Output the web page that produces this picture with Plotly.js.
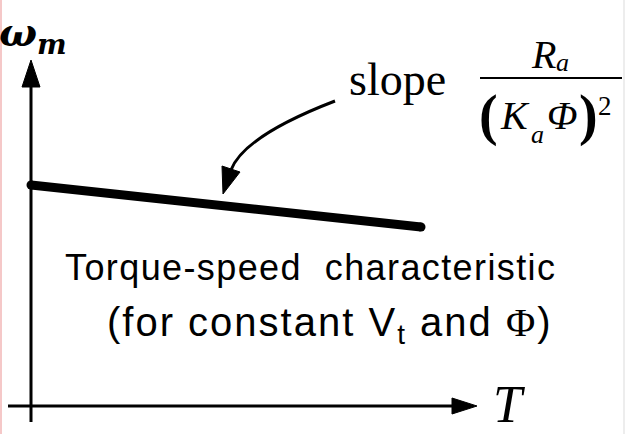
<!DOCTYPE html>
<html>
<head>
<meta charset="utf-8">
<script src="https://cdn.plot.ly/plotly-3.0.1.min.js"></script>
<style>html,body{margin:0;padding:0;background:#fff;}#chart{width:626px;height:434px;}</style>
</head>
<body>
<div id="chart"></div>
<script>
// ---- data ----
const torque = [0, 10];          // T, arbitrary units
const speed = [10, 8.1];         // omega_m, arbitrary units
const xLabel = "T";
const yLabelMain = "ω";
const yLabelSub = "m";
const captionLine1 = "Torque-speed\u00a0 characteristic";
const captionLine2 = "(for constant V<sub>t</sub> and <span style='font-family:\"Liberation Serif\"'>Φ</span>)";
const slopeWord = "slope";

// ---- geometry ----
const W = 626, H = 434;
const X0 = 31, Y0 = 406;         // pixel position of the origin
const KX = 39, KY = 22.1;        // pixels per unit
const xr = [-X0 / KX, (W - X0) / KX];
const yr = [-(H - Y0) / KY, Y0 / KY];
const dx = px => (px - X0) / KX;
const dy = py => (Y0 - py) / KY;
const PX = px => px / W;
const PY = py => 1 - py / H;

const serif = "Liberation Serif, Times New Roman, serif";
const dserif = "DejaVu Serif, serif";
const sans = "Liberation Sans, Arial, sans-serif";

function txt(text, px, py, size, family, extra) {
  return Object.assign({
    text: text, x: PX(px), y: PY(py), xref: "paper", yref: "paper",
    xanchor: "center", yanchor: "middle", showarrow: false,
    font: {family: family, size: size, color: "#000"}
  }, extra || {});
}

const annotations = [
  txt("<b><i>" + yLabelMain + "<sub>" + yLabelSub + "</sub></i></b>", 33, 34, 40, dserif),
  txt("<i>" + xLabel + "</i>", 509, 404, 52, serif),
  txt(slopeWord, 397, 80, 46, serif),
  txt("<i>R</i>", 543, 54, 40, serif),
  txt("<i>a</i>", 562, 63, 26, serif),
  txt("<b>(</b>", 488, 115, 56, serif),
  txt("<i>K</i>", 515, 116, 40, serif),
  txt("<i>a</i>", 537, 134, 26, serif),
  txt("<i>Φ</i>", 562, 116, 40, serif),
  txt("<b>)</b>", 588, 115, 56, serif),
  txt("2", 605, 106, 27, serif),
  txt("<span style='letter-spacing:1.4px'>" + captionLine1 + "</span>", 310, 267, 36, sans),
  txt("<span style='letter-spacing:2px'>" + captionLine2 + "</span>", 329, 325, 40, sans)
];

// pixel-path helper anchored to top-left of the paper
const pp = (px, py) => px + "," + (-py);

const shapes = [
  // faint page edges
  {type: "line", xref: "paper", yref: "paper", x0: PX(1), x1: PX(1), y0: 0, y1: 1,
   line: {color: "#f5c8c8", width: 2}},
  {type: "line", xref: "paper", yref: "paper", x0: PX(624), x1: PX(624), y0: 0, y1: 1,
   line: {color: "#ededed", width: 2}},
  // vertical axis
  {type: "line", xref: "x", yref: "y", x0: 0, x1: 0, y0: dy(422), y1: dy(84),
   line: {color: "#000", width: 3}},
  {type: "path", xref: "x", yref: "y", xsizemode: "pixel", ysizemode: "pixel",
   xanchor: 0, yanchor: dy(60), path: "M0,0 L-9,-27 L9,-27 Z",
   fillcolor: "#000", line: {color: "#000", width: 1}},
  // horizontal axis
  {type: "line", xref: "x", yref: "y", x0: dx(8), x1: dx(454), y0: 0, y1: 0,
   line: {color: "#000", width: 3}},
  {type: "path", xref: "x", yref: "y", xsizemode: "pixel", ysizemode: "pixel",
   xanchor: dx(477), yanchor: 0, path: "M0,0 L-25,8 L-25,-8 Z",
   fillcolor: "#000", line: {color: "#000", width: 1}},
  // fraction bar
  {type: "line", xref: "paper", yref: "paper", x0: PX(480), x1: PX(622), y0: PY(78), y1: PY(78),
   line: {color: "#000", width: 2}},
  // curved pointer arrow
  {type: "path", xref: "paper", yref: "paper", xsizemode: "pixel", ysizemode: "pixel",
   xanchor: 0, yanchor: 1,
   path: "M" + pp(335, 101) + " Q" + pp(244, 136) + " " + pp(231, 170),
   line: {color: "#000", width: 3}},
  {type: "path", xref: "paper", yref: "paper", xsizemode: "pixel", ysizemode: "pixel",
   xanchor: 0, yanchor: 1,
   path: "M" + pp(223, 194) + " L" + pp(222, 166) + " L" + pp(240, 172) + " Z",
   fillcolor: "#000", line: {color: "#000", width: 1}}
];

const trace = {
  x: torque, y: speed, type: "scatter", mode: "lines+markers",
  line: {color: "#000", width: 9},
  marker: {color: "#000", size: 9},
  hoverinfo: "skip", showlegend: false
};

const layout = {
  width: W, height: H,
  margin: {l: 0, r: 0, t: 0, b: 0, pad: 0},
  paper_bgcolor: "#fff", plot_bgcolor: "#fff",
  xaxis: {range: xr, visible: false, fixedrange: true},
  yaxis: {range: yr, visible: false, fixedrange: true},
  showlegend: false,
  shapes: shapes,
  annotations: annotations
};

Plotly.newPlot("chart", [trace], layout, {staticPlot: true, displayModeBar: false});
</script>
</body>
</html>
